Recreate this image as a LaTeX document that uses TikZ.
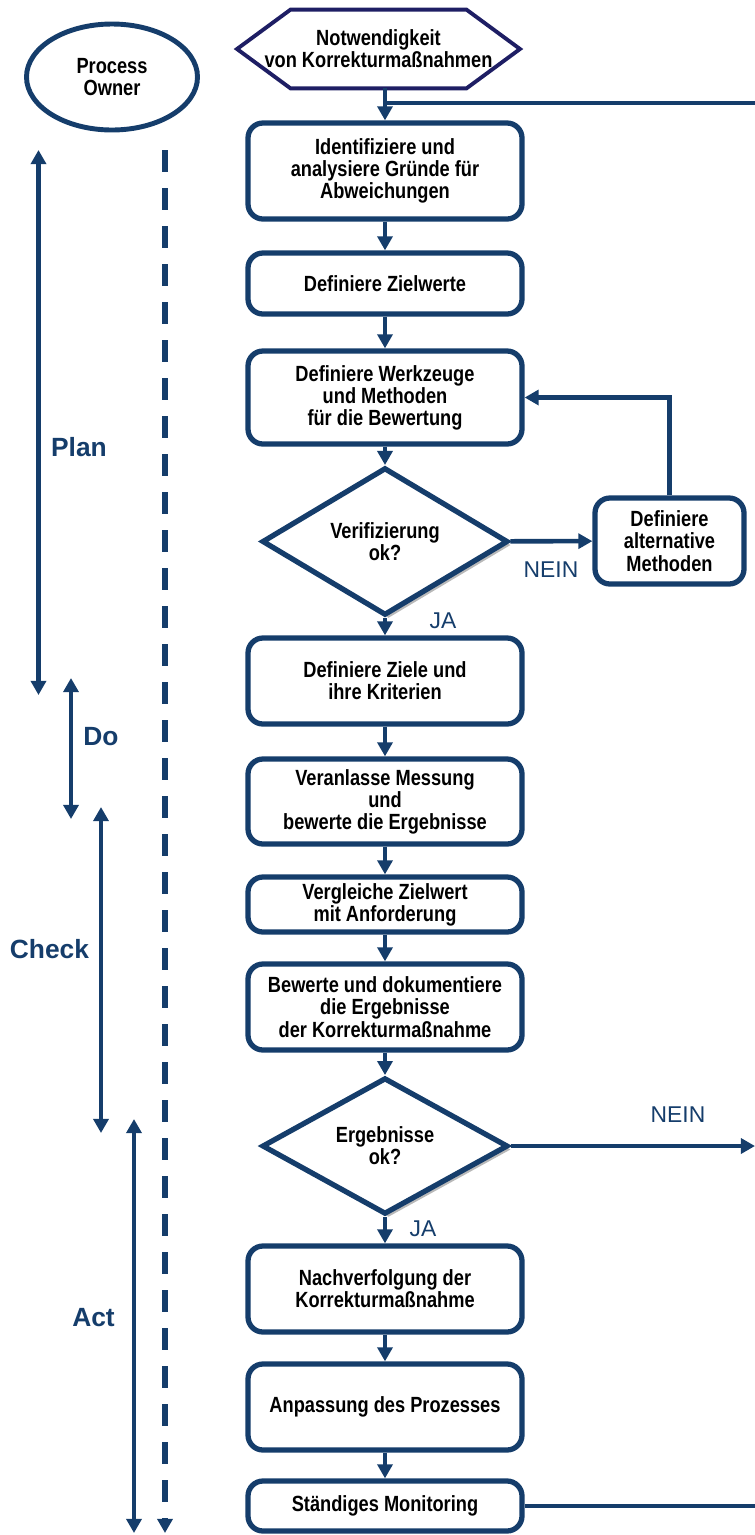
\documentclass[tikz,border=0pt]{standalone}
\usepackage{fontspec}
\setmainfont{Liberation Sans}
\newfontfamily\boxfont[FakeStretch=0.83]{Liberation Sans}
\usepackage{xcolor}
\usetikzlibrary{shapes.geometric,arrows.meta,shadows}
\definecolor{navy}{RGB}{21,61,107}
\definecolor{hexblue}{RGB}{30,30,100}

\begin{document}
\begin{tikzpicture}[scale = 1,
  >={Triangle[length=8pt,width=8.5pt]},
  boxtext/.style={font=\boxfont\bfseries\fontsize{12.5}{12.6}\selectfont, align=center},
  box/.style={boxtext, draw=navy, line width=3pt, rounded corners=0.3cm, fill=white, minimum width=5.48cm, inner sep=2pt},
  decision/.style={boxtext, diamond, draw=navy, line width=3pt, fill=white, minimum width=4.92cm, minimum height=2.5cm, inner sep=0pt,
    drop shadow={shadow xshift=2pt, shadow yshift=-2pt, opacity=0.5, fill=black!55}},
  flow/.style={->, navy, line width=2.6pt},
  phase/.style={<->, navy, line width=2.3pt},
  answer/.style={navy, font=\fontsize{13}{15}\selectfont},
  phasename/.style={navy, font=\bfseries\fontsize{15}{18}\selectfont}]

\useasboundingbox (0,0) rectangle (15.1,-30.7);

% start and owner
\node[boxtext, minimum height=1.56cm, inner sep=0pt] (need) at (7.57,-0.98) {Notwendigkeit\\von Korrekturmaßnahmen};
\draw [hexblue, line width=2.2pt, line join=miter]
  ([xshift=-2.83cm]need.center) -- ([xshift=-1.76cm]need.north) -- ([xshift=1.76cm]need.north)
  -- ([xshift=2.83cm]need.center) -- ([xshift=1.76cm]need.south) -- ([xshift=-1.76cm]need.south) -- cycle;

\node[boxtext, ellipse, draw=navy, line width=2.8pt, minimum width=3.42cm, minimum height=2.12cm] (owner) at (2.24,-1.54) {Process\\Owner};

% main column
\node[box, minimum height=1.92cm] (ident) at (7.7,-3.42) {Identifiziere und\\analysiere Gründe für\\Abweichungen};
\node[box, minimum height=1.22cm] (zielw) at (7.7,-5.67) {Definiere Zielwerte};
\node[box, minimum height=1.86cm] (werkz) at (7.7,-7.95) {Definiere Werkzeuge\\und Methoden\\für die Bewertung};
\node[decision] (verif) at (7.7,-10.83) {Verifizierung\\ok?};
\node[box, minimum width=2.98cm, minimum height=1.72cm] (alt) at (13.39,-10.82) {Definiere\\alternative\\Methoden};
\node[box, minimum height=1.72cm] (ziele) at (7.7,-13.62) {Definiere Ziele und\\ihre Kriterien};
\node[box, minimum height=1.7cm] (messung) at (7.7,-16.03) {Veranlasse Messung\\und\\bewerte die Ergebnisse};
\node[box, minimum height=1.1cm] (vergl) at (7.7,-18.09) {Vergleiche Zielwert\\mit Anforderung};
\node[box, minimum height=1.72cm] (bewert) at (7.7,-20.14) {Bewerte und dokumentiere\\die Ergebnisse\\der Korrekturmaßnahme};
\node[decision] (ergeb) at (7.7,-22.92) {Ergebnisse\\ok?};
\node[box, minimum height=1.72cm] (nachv) at (7.7,-25.78) {Nachverfolgung der\\Korrekturmaßnahme};
\node[box, minimum height=1.72cm] (anpass) at (7.7,-28.14) {Anpassung des Prozesses};
\node[box, minimum height=1.0cm] (monit) at (7.7,-30.12) {Ständiges Monitoring};

\coordinate (join) at (7.7,-2.06);
\coordinate (edge) at (15.1,0);

\draw [flow] (need.south -| ident.north) -- (ident.north);
\draw [flow] (ident) -- (zielw);
\draw [flow] (zielw) -- (werkz);
\draw [flow] (werkz) -- (verif);
\draw [flow] (verif) -- (ziele);
\draw [flow] (verif) -- (alt);
\draw [flow, line join=miter] (alt.north) -- (alt.north |- werkz.east) -- (werkz.east);
\draw [flow] (ziele) -- (messung);
\draw [flow] (messung) -- (vergl);
\draw [flow] (vergl) -- (bewert);
\draw [flow] (bewert) -- (ergeb);
\draw [flow] (ergeb) -- (nachv);
\draw [flow] (ergeb.east) -- (ergeb.east -| edge);
\draw [flow] (nachv) -- (anpass);
\draw [flow] (anpass) -- (monit);
\draw [flow, -] (monit.east) -- (monit.east -| edge);
\draw [flow, -] (edge |- join) -- (join);

\node[answer] (nein1) at (11.02,-11.4) {NEIN};
\node[answer] (ja1) at (8.86,-12.42) {JA};
\node[answer] (nein2) at (13.56,-22.3) {NEIN};
\node[answer] (ja2) at (8.46,-24.58) {JA};

% PDCA phases
\coordinate (plantop) at (0.77,-3.0);
\coordinate (planbot) at (0.77,-13.9);
\coordinate (dotop) at (1.42,-13.56);
\coordinate (dobot) at (1.42,-16.38);
\coordinate (checktop) at (2.02,-16.14);
\coordinate (checkbot) at (2.02,-22.66);
\coordinate (acttop) at (2.68,-22.38);
\coordinate (actbot) at (2.68,-30.66);
\coordinate (owntop) at (3.3,-3.0);
\coordinate (ownbot) at (3.3,-30.66);

\draw [phase] (plantop) -- (planbot);
\draw [phase] (dotop) -- (dobot);
\draw [phase] (checktop) -- (checkbot);
\draw [phase] (acttop) -- (actbot);
\draw [->, navy, line width=3.2pt, dash pattern=on 0.44cm off 0.32cm] (owntop) -- (ownbot);

\node[phasename] (plan) at (1.58,-8.94) {Plan};
\node[phasename] (do) at (2.02,-14.74) {Do};
\node[phasename] (check) at (0.99,-18.98) {Check};
\node[phasename] (act) at (1.87,-26.36) {Act};

\end{tikzpicture}
\end{document}
